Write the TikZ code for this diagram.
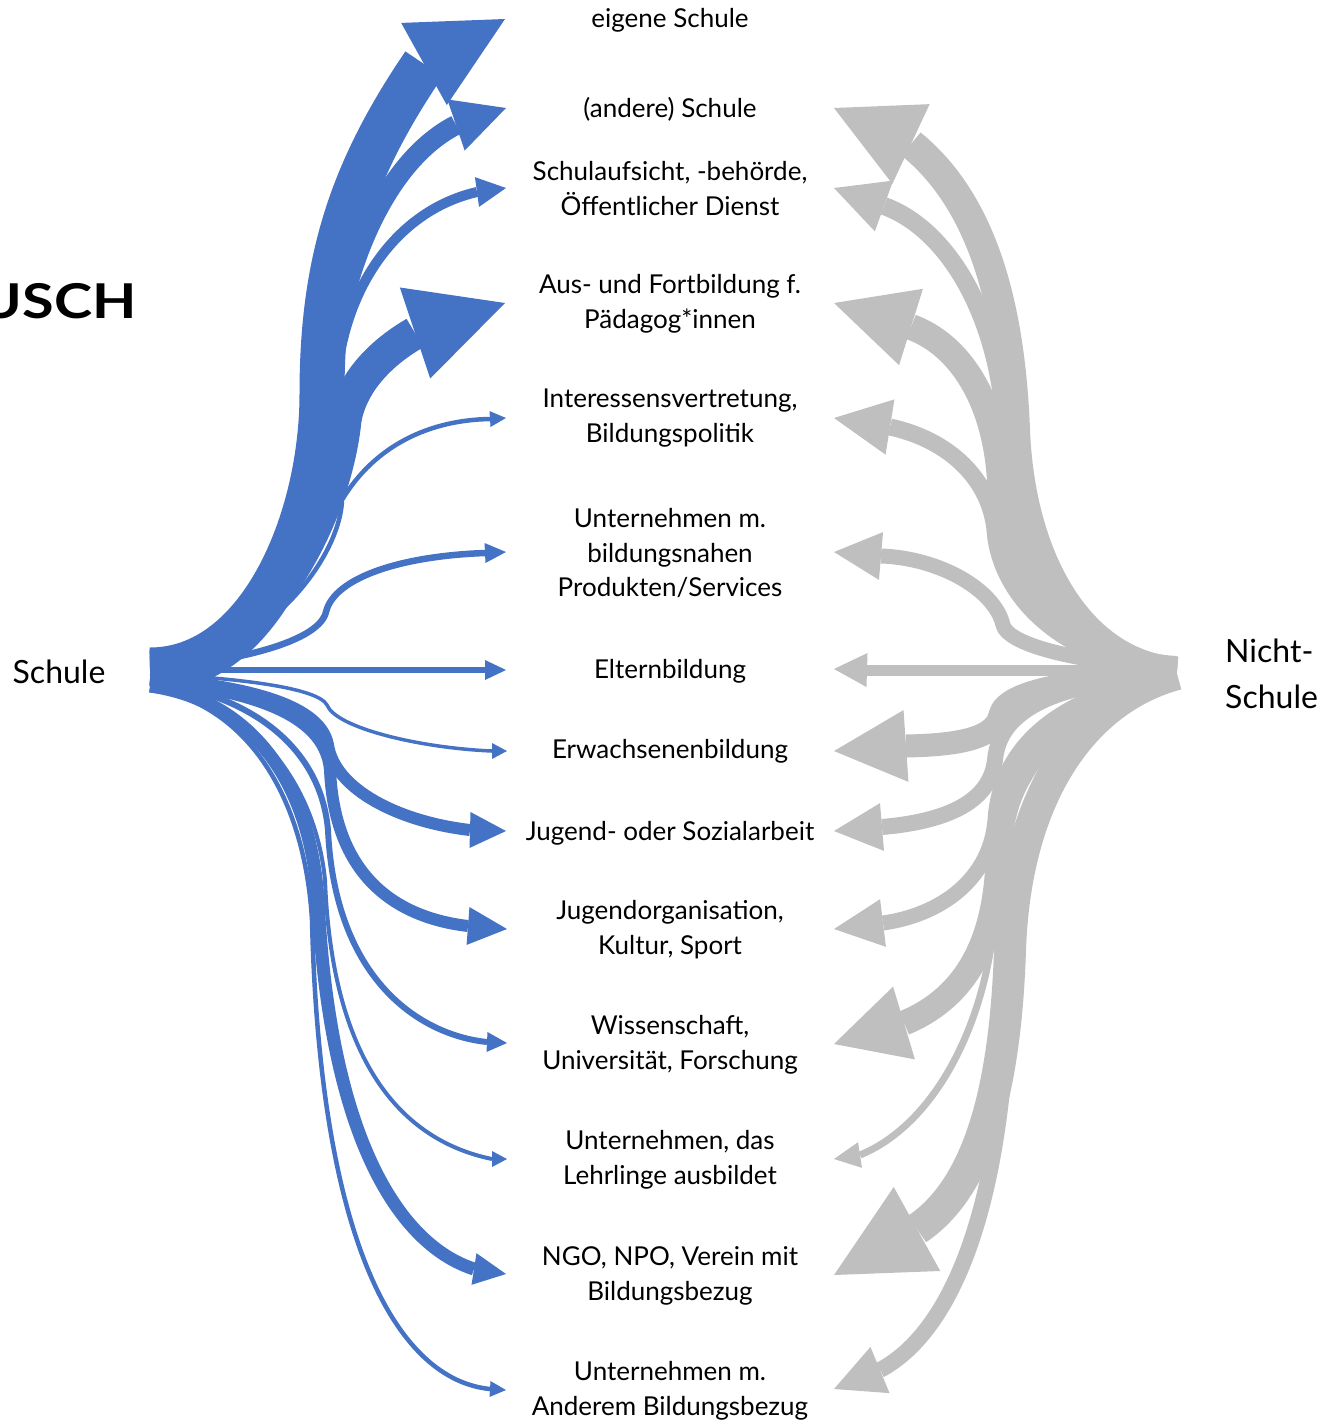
\documentclass[tikz,border=0pt]{standalone}
\usepackage{fontspec}
\setmainfont{Lato}
\usetikzlibrary{calc}
\definecolor{flowblue}{HTML}{4472C4}
\definecolor{flowgray}{HTML}{BFBFBF}
% #1 style, #2 shaft width, #3 start, #4 path, #5 base of head, #6 tip, #7 half head width
\newcommand{\flowarrow}[7]{%
  \draw[#1, line width=#2] (#3) #4 (#5);
  \fill[#1] (#6) -- ($(#5)!#7!90:(#6)$) -- ($(#5)!#7!-90:(#6)$) -- cycle;}
\begin{document}
\begin{tikzpicture}[x=1pt,y=-1pt,
  lbl/.style={font=\fontsize{26}{35}\selectfont, align=center, inner sep=0pt},
  side/.style={font=\fontsize{32}{46}\selectfont, inner sep=0pt},
  bflow/.style={color=flowblue, line cap=butt, line join=round},
  gflow/.style={color=flowgray, line cap=butt, line join=round}]
\useasboundingbox (0,0) rectangle (1325,1425);
\clip (0,0) rectangle (1325,1425);

% labels
\node[lbl] (n1) at (670,20) {eigene Schule};
\node[lbl] (n2) at (670,109) {(andere) Schule};
\node[lbl] (n3) at (670,188.5) {Schulaufsicht, -behörde,\\Öffentlicher Dienst};
\node[lbl] (n4) at (670,304) {Aus- und Fortbildung f.\\Pädagog*innen};
\node[lbl] (n5) at (670,418.5) {Interessensvertretung,\\Bildungspolitik};
\node[lbl] (n6) at (670,553) {Unternehmen m.\\bildungsnahen\\Produkten/Services};
\node[lbl] (n7) at (670,671) {Elternbildung};
\node[lbl] (n8) at (670,751) {Erwachsenenbildung};
\node[lbl] (n9) at (670,833) {Jugend- oder Sozialarbeit};
\node[lbl] (n10) at (670,930) {Jugendorganisation,\\Kultur, Sport};
\node[lbl] (n11) at (670,1045) {Wissenschaft,\\Universität, Forschung};
\node[lbl] (n12) at (670,1160) {Unternehmen, das\\Lehrlinge ausbildet};
\node[lbl] (n13) at (670,1275.5) {NGO, NPO, Verein mit\\Bildungsbezug};
\node[lbl] (n14) at (670,1390.5) {Unternehmen m.\\Anderem Bildungsbezug};

\node[side] (schule) at (59,672) {Schule};
\node[side, anchor=west, align=left] (nicht) at (1225,674) {Nicht-\\Schule};
\node[font=\fontsize{48}{50}\selectfont\bfseries, anchor=base east, inner sep=0pt] (usch) at (137,318) {\scalebox{1.2}[1]{USCH}};

% sources
\coordinate (bS) at (150,670);
\coordinate (gS) at (1177,672);

% blue heads: base (bE) and tip (bT)
\coordinate (bE1) at (424,64);   \coordinate (bT1) at (505,19);
\coordinate (bE2) at (456,125);  \coordinate (bT2) at (506,108);
\coordinate (bE3) at (477,192);  \coordinate (bT3) at (506,188);
\coordinate (bE4) at (415,333);  \coordinate (bT4) at (505,303);
\coordinate (bE5) at (490,419);  \coordinate (bT5) at (506,418);
\coordinate (bE6) at (485,553);  \coordinate (bT6) at (506,552);
\coordinate (bE7) at (485,670);  \coordinate (bT7) at (506,670);
\coordinate (bE8) at (492,751);  \coordinate (bT8) at (507,751);
\coordinate (bE9) at (470,830);  \coordinate (bT9) at (506,831);
\coordinate (bE10) at (468,926); \coordinate (bT10) at (507,929);
\coordinate (bE11) at (487,1042);\coordinate (bT11) at (507,1043);
\coordinate (bE12) at (492,1159);\coordinate (bT12) at (507,1159);
\coordinate (bE13) at (474,1269);\coordinate (bT13) at (506,1274);
\coordinate (bE14) at (490,1389);\coordinate (bT14) at (506,1390);

% gray heads
\coordinate (gE1) at (911,144);  \coordinate (gT1) at (834,108);
\coordinate (gE2) at (884,206);  \coordinate (gT2) at (834,188);
\coordinate (gE3) at (911,327);  \coordinate (gT3) at (834,303);
\coordinate (gE4) at (890,427);  \coordinate (gT4) at (834,418);
\coordinate (gE5) at (881,556);  \coordinate (gT5) at (834,552);
\coordinate (gE6) at (867,670);  \coordinate (gT6) at (834,669);
\coordinate (gE7) at (906,746);  \coordinate (gT7) at (834,751);
\coordinate (gE8) at (882,827);  \coordinate (gT8) at (834,831);
\coordinate (gE9) at (883,923);  \coordinate (gT9) at (834,929);
\coordinate (gE10) at (904,1023);\coordinate (gT10) at (834,1044);
\coordinate (gE11) at (860,1155);\coordinate (gT11) at (834,1159);
\coordinate (gE12) at (917,1229);\coordinate (gT12) at (834,1275);
\coordinate (gE13) at (880,1370);\coordinate (gT13) at (834,1389);

% blue flows (Schule)
\flowarrow{bflow}{45pt}{bS}{.. controls (260,670) and (322,520) .. (322,394) .. controls (322,260) and (352,170) ..}{bE1}{bT1}{47pt}
\flowarrow{bflow}{20pt}{$(bS)+(0,-8)$}{.. controls (260,662) and (326,520) .. (330,394) .. controls (334,290) and (378,165) ..}{bE2}{bT2}{27pt}
\flowarrow{bflow}{10pt}{$(bS)+(0,-8)$}{.. controls (260,662) and (330,520) .. (336,394) .. controls (338,300) and (390,212) ..}{bE3}{bT3}{15pt}
\flowarrow{bflow}{33pt}{$(bS)+(0,-4)$}{.. controls (260,666) and (335,520) .. (345,420) .. controls (350,390) and (372,358) ..}{bE4}{bT4}{48pt}
\flowarrow{bflow}{4.5pt}{$(bS)+(0,-6)$}{.. controls (260,664) and (340,560) .. (342,500) .. controls (375,445) and (430,420) ..}{bE5}{bT5}{8pt}
\flowarrow{bflow}{6.5pt}{$(bS)+(0,-2)$}{.. controls (220,664) and (318,645) .. (326,612) .. controls (334,578) and (400,556) ..}{bE6}{bT6}{10pt}
\flowarrow{bflow}{6pt}{bS}{--}{bE7}{bT7}{10pt}
\flowarrow{bflow}{3.5pt}{$(bS)+(0,4)$}{.. controls (240,678) and (318,688) .. (327,705) .. controls (336,728) and (420,748) ..}{bE8}{bT8}{8pt}
\flowarrow{bflow}{12pt}{$(bS)+(0,8)$}{.. controls (230,685) and (320,700) .. (328,745) .. controls (335,790) and (400,822) ..}{bE9}{bT9}{18pt}
\flowarrow{bflow}{12pt}{$(bS)+(0,10)$}{.. controls (240,690) and (325,710) .. (330,770) .. controls (335,880) and (400,918) ..}{bE10}{bT10}{19pt}
\flowarrow{bflow}{6pt}{$(bS)+(0,12)$}{.. controls (240,692) and (320,740) .. (328,830) .. controls (335,980) and (420,1035) ..}{bE11}{bT11}{10pt}
\flowarrow{bflow}{4pt}{$(bS)+(0,14)$}{.. controls (250,700) and (315,780) .. (325,880) .. controls (332,1060) and (400,1140) ..}{bE12}{bT12}{8pt}
\flowarrow{bflow}{13pt}{$(bS)+(0,16)$}{.. controls (250,700) and (310,780) .. (318,900) .. controls (330,1140) and (400,1245) ..}{bE13}{bT13}{16pt}
\flowarrow{bflow}{4.5pt}{$(bS)+(0,18)$}{.. controls (250,705) and (305,800) .. (312,920) .. controls (320,1250) and (400,1380) ..}{bE14}{bT14}{8pt}

% gray flows (Nicht-Schule)
\flowarrow{gflow}{30pt}{gS}{.. controls (1080,665) and (1020,560) .. (1015,430) .. controls (1010,300) and (980,200) ..}{gE1}{gT1}{44pt}
\flowarrow{gflow}{18pt}{$(gS)+(0,-4)$}{.. controls (1080,665) and (1010,560) .. (1005,430) .. controls (1000,320) and (950,230) ..}{gE2}{gT2}{27pt}
\flowarrow{gflow}{26pt}{$(gS)+(0,-3)$}{.. controls (1080,665) and (1005,580) .. (1000,480) .. controls (995,400) and (960,345) ..}{gE3}{gT3}{40pt}
\flowarrow{gflow}{17pt}{$(gS)+(0,-3)$}{.. controls (1070,665) and (1000,600) .. (995,530) .. controls (990,480) and (950,440) ..}{gE4}{gT4}{28pt}
\flowarrow{gflow}{15pt}{$(gS)+(0,-4)$}{.. controls (1110,666) and (1010,650) .. (1003,625) .. controls (995,590) and (940,558) ..}{gE5}{gT5}{24pt}
\flowarrow{gflow}{11pt}{$(gS)+(0,-2)$}{--}{gE6}{gT6}{17pt}
\flowarrow{gflow}{23pt}{$(gS)+(0,3)$}{.. controls (1080,678) and (1005,690) .. (1000,715) .. controls (995,738) and (960,745) ..}{gE7}{gT7}{36pt}
\flowarrow{gflow}{16pt}{$(gS)+(0,4)$}{.. controls (1080,680) and (1000,700) .. (995,760) .. controls (990,805) and (940,822) ..}{gE8}{gT8}{24pt}
\flowarrow{gflow}{15pt}{$(gS)+(0,5)$}{.. controls (1070,690) and (1000,740) .. (995,820) .. controls (990,880) and (940,915) ..}{gE9}{gT9}{24pt}
\flowarrow{gflow}{25pt}{$(gS)+(0,4)$}{.. controls (1070,690) and (1000,760) .. (998,860) .. controls (995,950) and (960,1000) ..}{gE10}{gT10}{38pt}
\flowarrow{gflow}{7pt}{$(gS)+(0,8)$}{.. controls (1070,695) and (1000,780) .. (995,900) .. controls (993,1000) and (945,1120) ..}{gE11}{gT11}{13pt}
\flowarrow{gflow}{32pt}{$(gS)+(0,2)$}{.. controls (1080,700) and (1015,800) .. (1010,950) .. controls (1005,1100) and (975,1190) ..}{gE12}{gT12}{48pt}
\flowarrow{gflow}{16pt}{$(gS)+(0,8)$}{.. controls (1075,705) and (1015,820) .. (1008,1000) .. controls (1002,1200) and (955,1330) ..}{gE13}{gT13}{25pt}
\end{tikzpicture}
\end{document}
